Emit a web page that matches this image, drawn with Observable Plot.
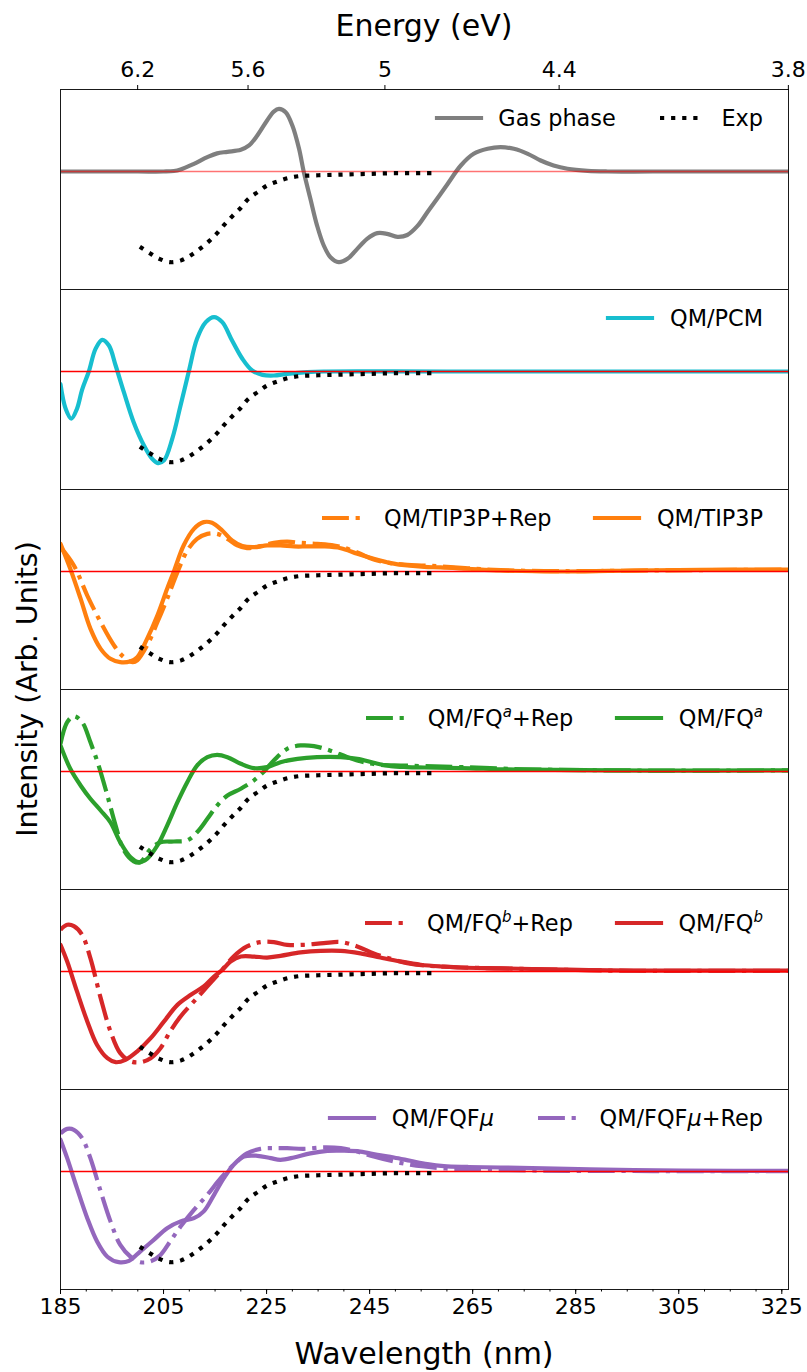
<!DOCTYPE html>
<html>
<head>
<meta charset="utf-8">
<script src="https://cdn.jsdelivr.net/npm/d3@7"></script>
<script src="https://cdn.jsdelivr.net/npm/@observablehq/plot@0.6"></script>
<style>
  body { margin: 0; background: #fff; font-family: "DejaVu Sans", sans-serif; }
  #wrap { position: relative; width: 807px; height: 1372px; overflow: hidden; }
  #wrap > svg { display: block; }
  .title { position: absolute; font-size: 30px; line-height: 1; white-space: nowrap; color: #000; }
  .leg { position: absolute; height: 30px; display: flex; align-items: center; font-size: 22.4px; line-height: 30px; white-space: nowrap; color: #000; }
  .item { display: flex; align-items: center; margin-left: 44px; }
  .item:first-child { margin-left: 0; }
  .item svg { overflow: visible; margin-right: 17.6px; }
  sup { font-size: 15px; line-height: 0; vertical-align: 9px; }
</style>
</head>
<body>
<div id="wrap"></div>
<script>
// ---------- axis / tick data ----------
const HC = 1239.84;
const energyTicks = [6.2, 5.6, 5.0, 4.4, 3.8];
const energyLabels = ["6.2", "5.6", "5", "4.4", "3.8"];
const wavelengthTicks = [185, 205, 225, 245, 265, 285, 305, 325];
const minorTicks = [185,190,195,200,205,210,215,220,225,230,235,240,245,250,255,260,265,270,275,280,285,290,295,300,305,310,315,320,325];
const xDomain = [185, 326.3];
const yDomain = [-1.301, 0.904];
const panelNames = ["Gas phase", "QM/PCM", "QM/TIP3P", "QM/FQa", "QM/FQb", "QM/FQFmu"];

// ---------- series values [wavelength nm, intensity] ----------
const expData = [[200.4,-0.83],[202.3,-0.90],[204.2,-0.963],[206.3,-1.0],[208.4,-0.98],[210.4,-0.92],[212.2,-0.846],[213.9,-0.765],[215.4,-0.68],[216.9,-0.58],[218.4,-0.49],[220.0,-0.40],[221.4,-0.305],[223.2,-0.23],[225.1,-0.154],[227.1,-0.11],[229.1,-0.074],[231.3,-0.051],[233.5,-0.044],[235.8,-0.04],[238.1,-0.037],[240.3,-0.033],[242.6,-0.029],[244.9,-0.026],[247.1,-0.022],[249.2,-0.019],[251.5,-0.018],[253.6,-0.018],[255.9,-0.018],[258.3,-0.018]];

const gasPhase = [[185,0],[200,0],[205,0],[207,0.005],[208.3,0.022],[210.9,0.085],[213.5,0.158],[215.4,0.2],[217.4,0.217],[220,0.24],[221.6,0.287],[223.2,0.397],[225.1,0.5625],[226.4,0.66],[227.4,0.69],[228.7,0.654],[230,0.507],[231.3,0.25],[232.2,0],[233.5,-0.30],[234.8,-0.596],[236.1,-0.816],[237.4,-0.945],[239,-1.0],[240.7,-0.963],[242.6,-0.853],[244.5,-0.743],[246.5,-0.68],[248.4,-0.6875],[250.4,-0.72],[252.3,-0.70],[254.3,-0.60],[256.2,-0.45],[258.1,-0.3],[260.1,-0.14],[262.7,0.066],[265.2,0.195],[267.9,0.25],[270.4,0.268],[273,0.25],[275.7,0.195],[278.2,0.121],[280.7,0.066],[283.4,0.03],[287.3,0.007],[291.2,0],[300,0],[326.3,0]];

const qmPcm = [[185,-0.14],[186,-0.41],[187.1,-0.52],[188.2,-0.41],[189.2,-0.2],[190.5,0],[191.8,0.25],[193.1,0.349],[194.4,0.287],[195.7,0.066],[197.3,-0.228],[199.2,-0.559],[201.2,-0.816],[202.8,-0.963],[203.9,-1.01],[205.1,-0.98],[206.7,-0.74],[208.3,-0.375],[209.9,0],[211.5,0.36],[213.2,0.544],[214.8,0.6],[216.4,0.544],[218.3,0.342],[220.3,0.14],[222.2,0.011],[224.2,-0.037],[226.4,-0.044],[229,-0.026],[232.9,-0.007],[236.1,0],[260,0],[326.3,0]];

const tip3p = [[185,0.305],[186.9,0.03],[188.9,-0.30],[190.8,-0.63],[192.8,-0.853],[194.7,-0.963],[196.6,-1.0],[198.6,-0.99],[199.9,-0.945],[201.8,-0.743],[203.8,-0.485],[205.7,-0.19],[207.0,0],[208.9,0.287],[210.9,0.47],[212.8,0.544],[214.4,0.537],[216.4,0.452],[218.3,0.342],[220.3,0.28],[222.5,0.268],[225.1,0.287],[227.7,0.287],[230.3,0.276],[232.9,0.276],[236.1,0.276],[239.4,0.257],[242.6,0.195],[245.8,0.14],[249.1,0.092],[252.3,0.066],[255.6,0.05],[258.8,0.045],[264,0.03],[270.4,0.011],[283.4,0],[296.3,0.011],[309.3,0.018],[326.3,0.022]];

const tip3pRep = [[185,0.268],[187.6,0.066],[190.2,-0.265],[192.8,-0.56],[195.4,-0.816],[197.3,-0.945],[199,-1.0],[199.9,-0.98],[201.8,-0.816],[203.8,-0.56],[205.7,-0.30],[207.7,-0.007],[209.6,0.23],[211.5,0.36],[213.5,0.415],[215.4,0.415],[217.4,0.36],[219.3,0.287],[221.2,0.257],[223.8,0.28],[226.4,0.316],[229,0.33],[231.6,0.316],[234.8,0.305],[238.1,0.287],[240.7,0.25],[243.2,0.195],[245.8,0.132],[249.1,0.092],[252.3,0.074],[255.6,0.066],[258.8,0.055],[264,0.035],[270.4,0.015],[283.4,0.003],[296.3,0.01],[309.3,0.016],[326.3,0.02]];

const fqa = [[185,0.287],[186.9,0.03],[188.9,-0.154],[190.8,-0.30],[192.8,-0.43],[194.7,-0.56],[196.6,-0.78],[198.6,-0.945],[200.2,-1.0],[201.8,-0.963],[203.8,-0.816],[205.7,-0.596],[207.7,-0.338],[209.6,-0.118],[211.5,0.066],[213.5,0.158],[215.4,0.184],[217.4,0.158],[220,0.085],[222.5,0.037],[225.1,0.048],[227.7,0.103],[231,0.14],[234.8,0.158],[239.4,0.158],[242.6,0.14],[245.8,0.096],[249.1,0.059],[252.3,0.048],[255.6,0.044],[262.7,0.037],[275,0.02],[300,0.01],[326.3,0.012]];

const fqaRep = [[185,0.305],[186.3,0.544],[187.6,0.61],[189.2,0.544],[190.8,0.324],[192.4,0.066],[194.1,-0.265],[195.7,-0.596],[197.3,-0.87],[199.2,-0.99],[200.5,-1.0],[202.5,-0.853],[204.4,-0.78],[207,-0.772],[209.6,-0.76],[211.5,-0.67],[213.5,-0.522],[215.4,-0.375],[217.4,-0.265],[220,-0.19],[222.5,-0.1],[224.5,0],[226.4,0.121],[229,0.25],[231.6,0.287],[234.2,0.28],[237.4,0.23],[240.7,0.158],[243.9,0.103],[247.1,0.074],[251,0.066],[255.6,0.059],[262.7,0.048],[275,0.025],[300,0.01],[326.3,0.012]];

const fqb = [[185,0.294],[186.3,0.11],[188.2,-0.22],[190.2,-0.55],[192.1,-0.81],[194.1,-0.956],[195.7,-1.0],[197.6,-0.974],[199.9,-0.88],[202.5,-0.735],[205.1,-0.55],[207.7,-0.368],[210.3,-0.257],[212.8,-0.165],[214.8,-0.055],[216.4,0.018],[218,0.11],[220,0.165],[222.5,0.165],[225.1,0.154],[227.7,0.173],[231.6,0.21],[235.5,0.228],[239.4,0.228],[243.2,0.2],[247.1,0.154],[251,0.11],[254.9,0.074],[258.8,0.055],[262.7,0.044],[270.4,0.035],[283.4,0.02],[296.3,0.01],[326.3,0.01]];

const fqbRep = [[185,0.46],[186.3,0.515],[187.6,0.5],[189.2,0.404],[190.8,0.147],[192.8,-0.294],[194.7,-0.66],[196.6,-0.9],[198.6,-0.99],[200.5,-1.0],[202.5,-0.956],[204.4,-0.846],[206.3,-0.66],[208.3,-0.496],[210.9,-0.33],[213.5,-0.165],[216.1,0],[218.6,0.165],[221.2,0.276],[223.8,0.324],[226.4,0.324],[229,0.294],[232.2,0.294],[236.1,0.313],[239.4,0.324],[242.6,0.276],[245.8,0.2],[249.1,0.14],[252.3,0.092],[255.6,0.066],[258.8,0.055],[262.7,0.044],[270.4,0.035],[283.4,0.018],[296.3,0.008],[326.3,0.008]];

const fqfmu = [[185,0.35],[186.3,0.147],[188.2,-0.184],[190.2,-0.515],[192.1,-0.772],[194.1,-0.94],[196.3,-1.0],[198.3,-0.985],[200.5,-0.88],[203.1,-0.754],[205.7,-0.625],[208.3,-0.55],[210.9,-0.515],[212.8,-0.44],[214.8,-0.257],[216.7,-0.074],[218.6,0.074],[220.6,0.165],[223.2,0.173],[225.8,0.147],[227.7,0.129],[230.3,0.154],[233.5,0.2],[236.8,0.228],[240,0.23],[243.2,0.22],[246.5,0.184],[249.7,0.154],[252.9,0.118],[256.2,0.081],[259.4,0.059],[264,0.05],[270.4,0.044],[283.4,0.03],[296.3,0.015],[315.7,0.007],[326.3,0.007]];

const fqfmuRep = [[185,0.42],[186.3,0.47],[187.6,0.46],[189.2,0.368],[190.8,0.147],[192.8,-0.22],[194.7,-0.55],[196.6,-0.81],[198.6,-0.94],[200.5,-1.0],[202.5,-0.99],[204.4,-0.92],[206.3,-0.77],[208.3,-0.607],[210.9,-0.423],[213.5,-0.257],[216.1,-0.074],[218.6,0.074],[221.2,0.2],[223.8,0.25],[226.4,0.257],[229,0.257],[232.2,0.25],[236.1,0.265],[239.4,0.257],[242.6,0.22],[245.8,0.165],[249.1,0.118],[252.3,0.081],[255.6,0.055],[258.8,0.037],[262.7,0.026],[275,0.012],[300,0.005],[326.3,0.005]];

// ---------- styles ----------
const LW = 4.2;
const dashes = { solid: null, dashdot: "26.9,6.7,4.2,6.7", dotted: "4.2,6.9" };
const colors = { gray: "#7f7f7f", cyan: "#17becf", orange: "#ff7f0e", green: "#2ca02c", red: "#d62728", purple: "#9467bd" };
const zeroOpacity = [0.55, 1, 1, 1, 1, 1];

const seriesList = [
  { panel: "Gas phase", data: gasPhase, color: colors.gray, style: "solid" },
  { panel: "QM/PCM", data: qmPcm, color: colors.cyan, style: "solid" },
  { panel: "QM/TIP3P", data: tip3pRep, color: colors.orange, style: "dashdot" },
  { panel: "QM/TIP3P", data: tip3p, color: colors.orange, style: "solid" },
  { panel: "QM/FQa", data: fqaRep, color: colors.green, style: "dashdot" },
  { panel: "QM/FQa", data: fqa, color: colors.green, style: "solid" },
  { panel: "QM/FQb", data: fqbRep, color: colors.red, style: "dashdot" },
  { panel: "QM/FQb", data: fqb, color: colors.red, style: "solid" },
  { panel: "QM/FQFmu", data: fqfmu, color: colors.purple, style: "solid" },
  { panel: "QM/FQFmu", data: fqfmuRep, color: colors.purple, style: "dashdot" }
];

const legends = [
  { dy: 29, items: [["Gas phase", colors.gray, "solid"], ["Exp", "#000", "dotted"]] },
  { dy: 29, items: [["QM/PCM", colors.cyan, "solid"]] },
  { dy: 29, items: [["QM/TIP3P+Rep", colors.orange, "dashdot"], ["QM/TIP3P", colors.orange, "solid"]] },
  { dy: 29, items: [["QM/FQ<sup><i>a</i></sup>+Rep", colors.green, "dashdot"], ["QM/FQ<sup><i>a</i></sup>", colors.green, "solid"]] },
  { dy: 33.5, items: [["QM/FQ<sup><i>b</i></sup>+Rep", colors.red, "dashdot"], ["QM/FQ<sup><i>b</i></sup>", colors.red, "solid"]] },
  { dy: 29, items: [["QM/FQF<i>μ</i>", colors.purple, "solid"], ["QM/FQF<i>μ</i>+Rep", colors.purple, "dashdot"]] }
];

// ---------- chart ----------
const marginTop = 89, marginBottom = 83, panelH = 200;
const energyPos = energyTicks.map(e => HC / e);
const energyLabelAt = new Map(energyPos.map((p, i) => [p, energyLabels[i]]));

const marks = [];
for (const s of seriesList) {
  marks.push(Plot.line(s.data, {
    x: d => d[0], y: d => d[1], fy: () => s.panel,
    stroke: s.color, strokeWidth: LW, strokeDasharray: dashes[s.style],
    strokeLinecap: s.style === "solid" ? "round" : "butt",
    curve: "catmull-rom", clip: true
  }));
}
panelNames.forEach((name, i) => {
  marks.push(Plot.ruleY([0], { fy: () => name, stroke: "#ff0000", strokeWidth: i === 0 ? 1.5 : 1.3, strokeOpacity: zeroOpacity[i] }));
});
marks.push(Plot.line(expData, {
  x: d => d[0], y: d => d[1], stroke: "black", strokeWidth: LW,
  strokeDasharray: dashes.dotted, strokeLinecap: "butt", curve: "catmull-rom"
}));
marks.push(Plot.frame({ stroke: "#1a1a1a", strokeWidth: 1 }));
marks.push(Plot.axisX({ anchor: "top", ticks: energyPos, tickFormat: d => energyLabelAt.get(d), tickSize: 5, tickPadding: 8, label: null }));
marks.push(Plot.axisX({ anchor: "bottom", ticks: wavelengthTicks, tickFormat: d => String(d), tickSize: 5, tickPadding: 4, label: null }));
marks.push(Plot.axisX({ anchor: "bottom", ticks: minorTicks, tickFormat: () => "", tickSize: 2.5, label: null }));

const chart = Plot.plot({
  width: 807, height: 1372,
  marginTop, marginBottom, marginLeft: 60, marginRight: 19,
  x: { domain: xDomain },
  y: { domain: yDomain, axis: null },
  fy: { domain: panelNames, padding: 0, axis: null },
  style: { fontFamily: "DejaVu Sans", fontSize: "22px", color: "black", background: "white", overflow: "visible" },
  marks
});

const wrap = document.getElementById("wrap");
wrap.appendChild(chart);

// ---------- titles ----------
function addTitle(text, css) {
  const d = document.createElement("div");
  d.className = "title";
  d.textContent = text;
  Object.assign(d.style, css);
  wrap.appendChild(d);
}
addTitle("Energy (eV)", { left: "424px", top: "11px", transform: "translateX(-50%)" });
addTitle("Wavelength (nm)", { left: "424px", top: "1339px", transform: "translateX(-50%)" });
addTitle("Intensity (Arb. Units)", { left: "28px", top: "689px", fontSize: "28.5px", transform: "translate(-50%,-50%) rotate(-90deg)" });

// ---------- legends ----------
function sampleSvg(color, style) {
  const cap = style === "solid" ? "square" : "butt";
  const dash = dashes[style] ? `stroke-dasharray="${dashes[style]}"` : "";
  return `<svg width="44" height="12" viewBox="0 0 44 12"><line x1="0" x2="44" y1="6" y2="6" stroke="${color}" stroke-width="${LW}" stroke-linecap="${cap}" ${dash}/></svg>`;
}
legends.forEach((lg, i) => {
  const d = document.createElement("div");
  d.className = "leg";
  d.style.right = "44px";
  d.style.top = (marginTop + i * panelH + lg.dy - 15) + "px";
  d.innerHTML = lg.items.map(([label, color, style]) =>
    `<div class="item">${sampleSvg(color, style)}<span>${label}</span></div>`).join("");
  wrap.appendChild(d);
});
</script>
</body>
</html>
